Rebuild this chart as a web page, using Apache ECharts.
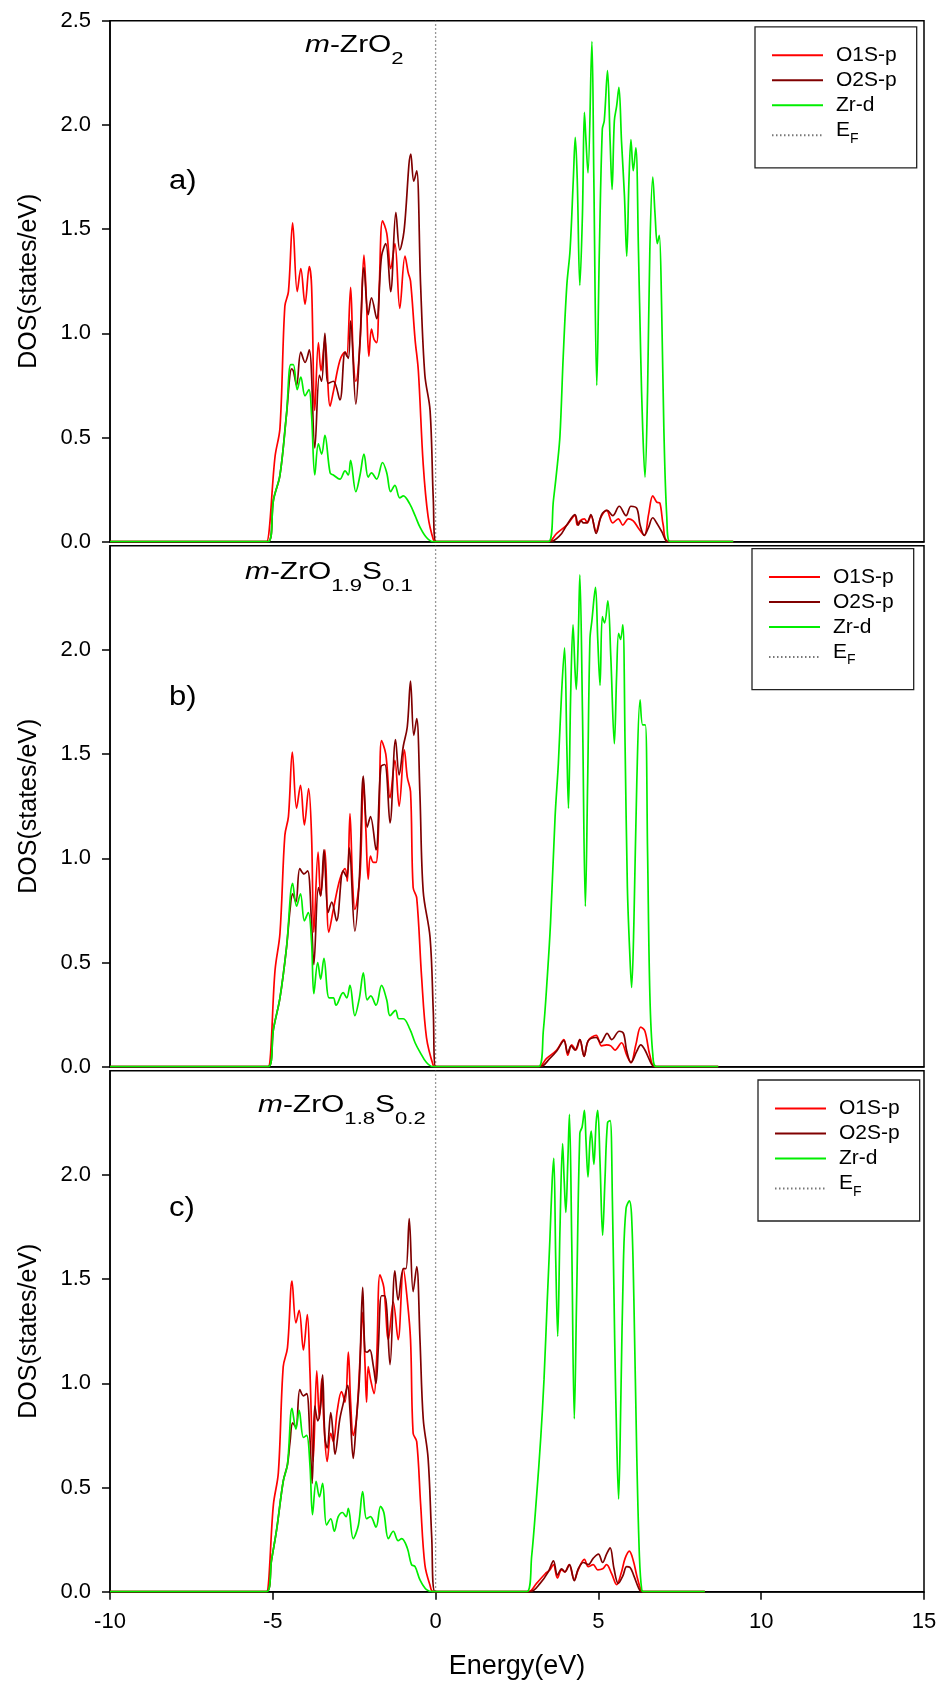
<!DOCTYPE html>
<html>
<head>
<meta charset="utf-8">
<script src="https://cdn.jsdelivr.net/npm/echarts@6/dist/echarts.min.js"></script>
<style>
  html, body { margin: 0; padding: 0; background: #ffffff; }
  #chart { width: 941px; height: 1683px; }
</style>
</head>
<body>
<div id="chart"></div>
<script>
// Projected density of states, [energy (eV), DOS (states/eV)] pairs.

// a) m-ZrO2
const zro2O1S = [[-10,0],[-5.25,0],[-5.19,0],[-4.93,0.41],[-4.78,0.545],[-4.63,1.13],[-4.52,1.20],[-4.39,1.53],[-4.25,1.20],[-4.14,1.31],[-4.01,1.14],[-3.88,1.32],[-3.81,1.23],[-3.71,0.63],[-3.60,0.955],[-3.52,0.82],[-3.40,0.97],[-3.24,0.65],[-3.14,0.72],[-2.94,0.87],[-2.78,0.91],[-2.73,0.89],[-2.61,1.22],[-2.53,0.89],[-2.45,0.77],[-2.32,0.955],[-2.20,1.375],[-2.12,1.14],[-2.05,0.89],[-1.97,1.02],[-1.89,0.97],[-1.81,0.955],[-1.73,1.23],[-1.63,1.54],[-1.50,1.48],[-1.38,1.31],[-1.25,1.43],[-1.10,1.12],[-0.94,1.37],[-0.84,1.29],[-0.77,1.25],[-0.63,0.97],[-0.53,0.82],[-0.38,0.37],[-0.23,0.12],[-0.07,0.01],[0,0],[3.46,0],[3.72,0.04],[4.03,0.08],[4.28,0.125],[4.35,0.08],[4.43,0.10],[4.57,0.11],[4.66,0.09],[4.77,0.125],[4.93,0.05],[5.07,0.115],[5.25,0.15],[5.44,0.09],[5.61,0.11],[5.75,0.08],[5.92,0.11],[6.07,0.10],[6.23,0.065],[6.41,0.03],[6.54,0.13],[6.67,0.22],[6.79,0.19],[6.89,0.185],[6.99,0.08],[7.15,0],[9.14,0]];
const zro2O2S = [[-10,0],[-5.14,0],[-4.98,0.20],[-4.78,0.32],[-4.58,0.61],[-4.42,0.83],[-4.37,0.82],[-4.27,0.75],[-4.14,0.91],[-4.01,0.86],[-3.88,0.92],[-3.71,0.45],[-3.57,0.80],[-3.50,0.77],[-3.40,1.00],[-3.30,0.76],[-3.14,0.77],[-2.94,0.68],[-2.78,0.91],[-2.68,0.88],[-2.61,1.06],[-2.45,0.66],[-2.32,0.97],[-2.20,1.315],[-2.07,1.09],[-1.97,1.17],[-1.81,1.07],[-1.66,1.37],[-1.53,1.43],[-1.38,1.20],[-1.22,1.58],[-1.10,1.40],[-0.97,1.49],[-0.76,1.86],[-0.67,1.73],[-0.58,1.78],[-0.46,1.23],[-0.33,0.80],[-0.17,0.63],[-0.07,0.20],[0.01,0],[3.51,0],[3.82,0.03],[4.03,0.08],[4.28,0.13],[4.38,0.08],[4.47,0.10],[4.54,0.09],[4.64,0.09],[4.77,0.13],[4.93,0.04],[5.10,0.13],[5.27,0.15],[5.44,0.125],[5.64,0.17],[5.85,0.125],[6.00,0.17],[6.18,0.16],[6.28,0.08],[6.41,0.03],[6.53,0.065],[6.67,0.115],[6.79,0.09],[6.94,0.05],[7.15,0],[9.14,0]];
const zro2Zrd = [[-10,0],[-5.14,0],[-4.98,0.20],[-4.78,0.32],[-4.58,0.61],[-4.45,0.85],[-4.37,0.85],[-4.25,0.73],[-4.14,0.79],[-4.01,0.70],[-3.89,0.73],[-3.81,0.61],[-3.71,0.32],[-3.60,0.47],[-3.50,0.42],[-3.40,0.51],[-3.24,0.33],[-3.14,0.32],[-2.94,0.30],[-2.78,0.34],[-2.68,0.32],[-2.61,0.39],[-2.45,0.24],[-2.32,0.32],[-2.20,0.42],[-2.07,0.31],[-1.97,0.33],[-1.81,0.30],[-1.63,0.38],[-1.50,0.33],[-1.38,0.24],[-1.25,0.27],[-1.10,0.21],[-0.99,0.22],[-0.79,0.18],[-0.63,0.125],[-0.48,0.07],[-0.28,0.02],[-0.07,0],[3.46,0],[3.62,0.20],[3.74,0.37],[3.82,0.51],[3.92,0.89],[4.03,1.23],[4.13,1.40],[4.23,1.74],[4.29,1.94],[4.35,1.74],[4.43,1.23],[4.51,1.57],[4.57,2.06],[4.62,1.92],[4.68,1.77],[4.80,2.40],[4.86,1.74],[4.95,0.75],[5.03,1.40],[5.12,1.98],[5.18,2.02],[5.28,2.26],[5.36,1.92],[5.42,1.69],[5.49,2.02],[5.56,2.09],[5.63,2.18],[5.71,1.92],[5.80,1.66],[5.87,1.37],[5.94,1.74],[6.00,1.93],[6.07,1.78],[6.15,1.89],[6.23,1.40],[6.30,0.89],[6.36,0.545],[6.43,0.31],[6.51,0.72],[6.58,1.40],[6.67,1.75],[6.74,1.57],[6.81,1.43],[6.87,1.47],[6.94,1.14],[7.01,0.545],[7.10,0.12],[7.20,0],[9.14,0]];

// b) m-ZrO1.9S0.1
const s01O1S = [[-10,0],[-5.25,0],[-5.14,0],[-4.93,0.465],[-4.78,0.64],[-4.63,1.11],[-4.52,1.20],[-4.40,1.51],[-4.27,1.24],[-4.15,1.35],[-4.03,1.16],[-3.90,1.335],[-3.81,1.11],[-3.74,0.645],[-3.61,1.03],[-3.53,0.82],[-3.40,1.04],[-3.28,0.645],[-3.14,0.755],[-2.94,0.90],[-2.78,0.95],[-2.71,0.89],[-2.63,1.215],[-2.55,0.89],[-2.48,0.755],[-2.32,0.925],[-2.22,1.37],[-2.14,1.13],[-2.07,0.90],[-2.00,1.01],[-1.91,0.98],[-1.83,0.98],[-1.74,1.20],[-1.66,1.565],[-1.53,1.50],[-1.40,1.29],[-1.25,1.47],[-1.12,1.25],[-0.96,1.52],[-0.87,1.39],[-0.77,1.32],[-0.69,0.86],[-0.58,0.81],[-0.43,0.43],[-0.28,0.14],[-0.07,0.005],[0,0],[3.16,0],[3.41,0.04],[3.72,0.08],[3.94,0.13],[4.06,0.055],[4.18,0.105],[4.31,0.08],[4.43,0.13],[4.56,0.05],[4.69,0.125],[4.93,0.15],[5.10,0.10],[5.25,0.105],[5.38,0.10],[5.51,0.08],[5.71,0.115],[5.87,0.055],[6.00,0.02],[6.15,0.105],[6.30,0.19],[6.43,0.17],[6.58,0.055],[6.74,0],[8.68,0]];
const s01O2S = [[-10,0],[-5.14,0],[-4.98,0.18],[-4.78,0.33],[-4.58,0.57],[-4.47,0.755],[-4.39,0.83],[-4.29,0.79],[-4.17,0.95],[-4.04,0.925],[-3.93,0.94],[-3.81,0.69],[-3.74,0.49],[-3.60,0.86],[-3.53,0.82],[-3.43,1.04],[-3.30,0.74],[-3.19,0.79],[-3.04,0.70],[-2.84,0.94],[-2.73,0.91],[-2.65,1.05],[-2.48,0.65],[-2.34,0.91],[-2.22,1.395],[-2.10,1.15],[-2.00,1.20],[-1.83,1.04],[-1.68,1.44],[-1.56,1.45],[-1.40,1.17],[-1.23,1.57],[-1.12,1.40],[-0.99,1.54],[-0.87,1.63],[-0.77,1.85],[-0.67,1.59],[-0.58,1.67],[-0.48,1.30],[-0.38,0.84],[-0.17,0.62],[-0.07,0.26],[0,0],[3.21,0],[3.51,0.04],[3.72,0.075],[3.94,0.125],[4.06,0.065],[4.16,0.10],[4.28,0.08],[4.43,0.13],[4.56,0.05],[4.69,0.125],[4.93,0.14],[5.07,0.115],[5.27,0.16],[5.41,0.13],[5.64,0.17],[5.77,0.16],[5.87,0.075],[6.00,0.02],[6.18,0.075],[6.30,0.105],[6.43,0.08],[6.64,0.01],[6.74,0],[8.68,0]];
const s01Zrd = [[-10,0],[-5.14,0],[-4.98,0.18],[-4.78,0.33],[-4.58,0.57],[-4.39,0.88],[-4.27,0.77],[-4.15,0.83],[-4.03,0.70],[-3.91,0.74],[-3.81,0.60],[-3.74,0.35],[-3.62,0.50],[-3.53,0.42],[-3.43,0.52],[-3.27,0.33],[-3.14,0.33],[-3.06,0.295],[-2.84,0.355],[-2.73,0.33],[-2.63,0.39],[-2.48,0.245],[-2.34,0.33],[-2.22,0.45],[-2.10,0.32],[-1.99,0.34],[-1.83,0.295],[-1.66,0.39],[-1.50,0.32],[-1.40,0.245],[-1.23,0.27],[-1.13,0.23],[-0.99,0.23],[-0.79,0.18],[-0.63,0.115],[-0.48,0.07],[-0.28,0.02],[-0.07,0],[3.16,0],[3.31,0.175],[3.43,0.43],[3.53,0.69],[3.67,1.20],[3.77,1.455],[3.87,1.795],[3.96,2.01],[4.03,1.54],[4.08,1.24],[4.15,1.795],[4.22,2.12],[4.28,1.91],[4.32,1.81],[4.38,2.05],[4.43,2.36],[4.51,1.71],[4.60,0.77],[4.67,1.37],[4.74,2.05],[4.80,2.14],[4.91,2.30],[4.98,2.05],[5.05,1.83],[5.12,2.16],[5.19,2.13],[5.29,2.235],[5.38,1.97],[5.49,1.55],[5.56,1.88],[5.62,2.08],[5.68,2.05],[5.75,2.12],[5.82,1.54],[5.89,0.86],[5.97,0.52],[6.02,0.38],[6.09,0.69],[6.18,1.37],[6.28,1.76],[6.36,1.64],[6.44,1.64],[6.51,1.03],[6.58,0.35],[6.67,0.06],[6.79,0],[8.68,0]];

// c) m-ZrO1.8S0.2
const s02O1S = [[-10,0],[-5.25,0],[-5.19,0],[-4.98,0.42],[-4.83,0.57],[-4.68,1.08],[-4.55,1.17],[-4.41,1.49],[-4.29,1.29],[-4.19,1.35],[-4.06,1.16],[-3.94,1.33],[-3.86,1.06],[-3.76,0.625],[-3.65,1.06],[-3.57,0.83],[-3.50,1.02],[-3.43,0.81],[-3.33,0.625],[-3.22,0.76],[-3.14,0.72],[-3.02,0.87],[-2.89,0.96],[-2.78,0.91],[-2.68,1.15],[-2.61,0.91],[-2.53,0.75],[-2.43,0.83],[-2.32,1.12],[-2.24,1.34],[-2.17,1.10],[-2.12,0.91],[-2.07,1.08],[-2.00,1.02],[-1.89,0.95],[-1.81,1.12],[-1.71,1.52],[-1.59,1.46],[-1.45,1.21],[-1.30,1.39],[-1.15,1.21],[-0.99,1.55],[-0.87,1.40],[-0.77,1.21],[-0.69,0.76],[-0.58,0.72],[-0.46,0.42],[-0.33,0.13],[-0.17,0.03],[-0.07,0],[2.85,0],[3.10,0.04],[3.36,0.085],[3.51,0.105],[3.62,0.13],[3.74,0.066],[3.87,0.105],[3.97,0.095],[4.10,0.13],[4.26,0.057],[4.38,0.105],[4.57,0.155],[4.69,0.12],[4.84,0.13],[4.98,0.105],[5.13,0.11],[5.25,0.13],[5.41,0.085],[5.56,0.034],[5.71,0.095],[5.82,0.16],[5.95,0.195],[6.07,0.15],[6.18,0.076],[6.28,0.02],[6.36,0],[8.27,0]];
const s02O2S = [[-10,0],[-5.19,0],[-5.04,0.15],[-4.88,0.30],[-4.68,0.53],[-4.55,0.61],[-4.47,0.72],[-4.39,0.81],[-4.29,0.79],[-4.17,0.97],[-4.06,0.94],[-3.96,0.95],[-3.86,0.74],[-3.79,0.52],[-3.71,0.89],[-3.62,0.82],[-3.53,0.89],[-3.47,1.04],[-3.40,0.74],[-3.33,0.69],[-3.22,0.86],[-3.14,0.74],[-3.09,0.66],[-2.94,0.83],[-2.81,0.92],[-2.70,0.99],[-2.63,0.87],[-2.53,0.64],[-2.43,0.83],[-2.34,1.02],[-2.24,1.46],[-2.17,1.155],[-2.10,1.15],[-2.02,1.16],[-1.91,1.08],[-1.83,1.00],[-1.76,1.17],[-1.66,1.42],[-1.56,1.42],[-1.40,1.09],[-1.25,1.54],[-1.15,1.40],[-0.99,1.55],[-0.91,1.55],[-0.81,1.79],[-0.69,1.44],[-0.58,1.56],[-0.48,1.21],[-0.38,0.83],[-0.23,0.64],[-0.12,0.265],[-0.02,0],[2.90,0],[3.21,0.04],[3.46,0.095],[3.62,0.148],[3.74,0.08],[3.87,0.11],[3.97,0.095],[4.11,0.13],[4.26,0.053],[4.38,0.11],[4.54,0.14],[4.69,0.13],[4.84,0.16],[5.00,0.18],[5.13,0.14],[5.25,0.18],[5.36,0.21],[5.48,0.11],[5.61,0.04],[5.75,0.076],[5.87,0.12],[5.97,0.117],[6.09,0.076],[6.23,0.02],[6.33,0],[8.27,0]];
const s02Zrd = [[-10,0],[-5.19,0],[-5.04,0.15],[-4.88,0.30],[-4.68,0.53],[-4.55,0.61],[-4.41,0.88],[-4.29,0.78],[-4.19,0.87],[-4.06,0.74],[-3.96,0.75],[-3.86,0.61],[-3.78,0.37],[-3.67,0.53],[-3.57,0.455],[-3.47,0.52],[-3.35,0.32],[-3.22,0.35],[-3.11,0.29],[-2.99,0.36],[-2.86,0.38],[-2.75,0.36],[-2.68,0.40],[-2.53,0.255],[-2.37,0.32],[-2.24,0.48],[-2.12,0.35],[-2.00,0.36],[-1.83,0.31],[-1.69,0.41],[-1.59,0.38],[-1.45,0.255],[-1.30,0.29],[-1.15,0.245],[-1.04,0.255],[-0.87,0.21],[-0.74,0.13],[-0.63,0.12],[-0.48,0.057],[-0.28,0.01],[-0.07,0],[2.80,0],[2.95,0.17],[3.10,0.455],[3.23,0.74],[3.33,1.02],[3.43,1.40],[3.51,1.69],[3.58,1.97],[3.63,2.08],[3.69,1.59],[3.75,1.225],[3.82,1.74],[3.90,2.15],[3.95,1.97],[4.00,1.82],[4.06,2.06],[4.11,2.29],[4.18,1.69],[4.26,0.83],[4.33,1.40],[4.43,2.20],[4.50,2.23],[4.57,2.31],[4.62,2.16],[4.68,1.99],[4.74,2.16],[4.78,2.21],[4.86,2.05],[4.93,2.25],[4.98,2.31],[5.05,2.06],[5.13,1.71],[5.20,1.97],[5.28,2.25],[5.36,2.26],[5.43,1.875],[5.50,1.21],[5.56,0.74],[5.62,0.445],[5.69,0.93],[5.77,1.59],[5.85,1.84],[5.95,1.875],[6.02,1.80],[6.09,1.40],[6.18,0.64],[6.26,0.17],[6.33,0.01],[6.40,0],[8.27,0]];

// Fermi level marker (E = 0) spanning the DOS range
const fermiLine = [[0, 0], [0, 2.5]];

// Axis ticks
const energyTicks = { min: -10, max: 15, step: 5 };
const dosTicksTop = [0, 0.5, 1, 1.5, 2, 2.5];
const dosTicksLower = [0, 0.5, 1, 1.5, 2];

const seriesNames = ['O1S-p', 'O2S-p', 'Zr-d', 'EF'];
const seriesColors = ['#ff0000', '#800000', '#00ee00', '#777777'];

const panelData = [
  [zro2O1S, zro2O2S, zro2Zrd],
  [s01O1S, s01O2S, s01Zrd],
  [s02O1S, s02O2S, s02Zrd]
];
const panelTitles = [
  '{i|m}{n|-ZrO}{s|2}',
  '{i|m}{n|-ZrO}{s|1.9}{n|S}{s|0.1}',
  '{i|m}{n|-ZrO}{s|1.8}{n|S}{s|0.2}'
];
const panelLetters = ['a)', 'b)', 'c)'];

// Layout of the three stacked panels (pixels)
const layout = [
  { top: 20.7,  legendLeft: 755, legendTop: 26.8, titleX: 305, titleBottom: 68,   letterY: 182 },
  { top: 545.7, legendLeft: 752, legendTop: 548.6, titleX: 245, titleBottom: 595,  letterY: 698 },
  { top: 1070.7, legendLeft: 758, legendTop: 1080, titleX: 258, titleBottom: 1128, letterY: 1209 }
];
const GRID_LEFT = 110, GRID_WIDTH = 814, GRID_HEIGHT = 521;
const FONT = '"Liberation Sans", Arial, Helvetica, sans-serif';

const grids = [], xAxes = [], yAxes = [], series = [], legends = [], graphics = [];

layout.forEach((lay, i) => {
  const last = i === layout.length - 1;
  grids.push({
    left: GRID_LEFT, top: lay.top, width: GRID_WIDTH, height: GRID_HEIGHT,
    show: true, borderColor: '#000', borderWidth: 1.5, backgroundColor: 'transparent'
  });
  xAxes.push({
    type: 'value', gridIndex: i,
    min: energyTicks.min, max: energyTicks.max, interval: energyTicks.step,
    axisLine: { show: true, onZero: false, lineStyle: { color: '#000', width: 1.5 } },
    axisTick: { show: last, inside: false, length: 8, lineStyle: { color: '#000', width: 1.5 } },
    axisLabel: { show: last, margin: 19, color: '#000', fontSize: 22, fontFamily: FONT },
    splitLine: { show: false },
    name: last ? 'Energy(eV)' : '',
    nameLocation: 'middle', nameGap: 61,
    nameTextStyle: { fontSize: 27, fontFamily: FONT, color: '#000' }
  });
  const ticks = i === 0 ? dosTicksTop : dosTicksLower;
  yAxes.push({
    type: 'value', gridIndex: i, min: 0, max: 2.5, interval: 0.5,
    axisLine: { show: true, onZero: false, lineStyle: { color: '#000', width: 1.5 } },
    axisTick: { show: true, inside: false, length: 8, customValues: ticks, lineStyle: { color: '#000', width: 1.5 } },
    axisLabel: {
      show: true, customValues: ticks, margin: 19, color: '#000', fontSize: 22, fontFamily: FONT,
      formatter: v => Number(v).toFixed(1)
    },
    splitLine: { show: false },
    name: 'DOS(states/eV)', nameLocation: 'middle', nameGap: 68,
    nameTextStyle: { fontSize: 25, fontFamily: FONT, color: '#000' }
  });

  panelData[i].forEach((data, k) => {
    series.push({
      type: 'line', name: seriesNames[k], xAxisIndex: i, yAxisIndex: i,
      data: data, symbol: 'none', smooth: 0.35,
      lineStyle: { color: seriesColors[k], width: 1.7 },
      itemStyle: { color: seriesColors[k] },
      z: 3 + k
    });
  });
  series.push({
    type: 'line', name: 'EF', xAxisIndex: i, yAxisIndex: i,
    data: fermiLine, symbol: 'none',
    lineStyle: { color: seriesColors[3], width: 1.3, type: [1.5, 2.5] },
    itemStyle: { color: seriesColors[3] },
    z: 2
  });

  legends.push({
    left: lay.legendLeft, top: lay.legendTop, orient: 'vertical',
    borderColor: '#222', borderWidth: 1.3, borderRadius: 0,
    padding: [18, 20, 22, 16],
    itemWidth: 51, itemHeight: 14, itemGap: 4,
    selectedMode: false,
    itemStyle: { opacity: 0 },
    data: seriesNames,
    formatter: name => name === 'EF' ? '{e|E}{f|F}' : name,
    textStyle: {
      color: '#000', fontSize: 21, fontFamily: FONT, lineHeight: 21, padding: [0, 0, 0, 8],
      rich: {
        e: { fontSize: 21, fontFamily: FONT, color: '#000', lineHeight: 21, verticalAlign: 'bottom', padding: [0, 0, 5, 0] },
        f: { fontSize: 14, fontFamily: FONT, color: '#000', lineHeight: 14, verticalAlign: 'bottom' }
      }
    }
  });

  // Panel composition label, stretched horizontally like the axis lettering
  graphics.push({
    type: 'text', x: lay.titleX, y: lay.titleBottom, scaleX: 1.3, z: 10,
    style: {
      text: panelTitles[i], verticalAlign: 'bottom', align: 'left', fill: '#000',
      rich: {
        i: { fontSize: 23, fontStyle: 'italic', fontFamily: FONT, fill: '#000', lineHeight: 23, verticalAlign: 'bottom', padding: [0, 0, 11, 0] },
        n: { fontSize: 23, fontFamily: FONT, fill: '#000', lineHeight: 23, verticalAlign: 'bottom', padding: [0, 0, 11, 0] },
        s: { fontSize: 17, fontFamily: FONT, fill: '#000', lineHeight: 17, verticalAlign: 'bottom' }
      }
    }
  });
  graphics.push({
    type: 'text', x: 169, y: lay.letterY, scaleX: 1.15, z: 10,
    style: { text: panelLetters[i], fontSize: 27, fontFamily: FONT, fill: '#000', verticalAlign: 'middle', align: 'left' }
  });
});

const chart = echarts.init(document.getElementById('chart'), null, { renderer: 'canvas' });
chart.setOption({
  animation: false,
  backgroundColor: '#ffffff',
  grid: grids,
  xAxis: xAxes,
  yAxis: yAxes,
  legend: legends,
  series: series,
  graphic: graphics
});
</script>
</body>
</html>
